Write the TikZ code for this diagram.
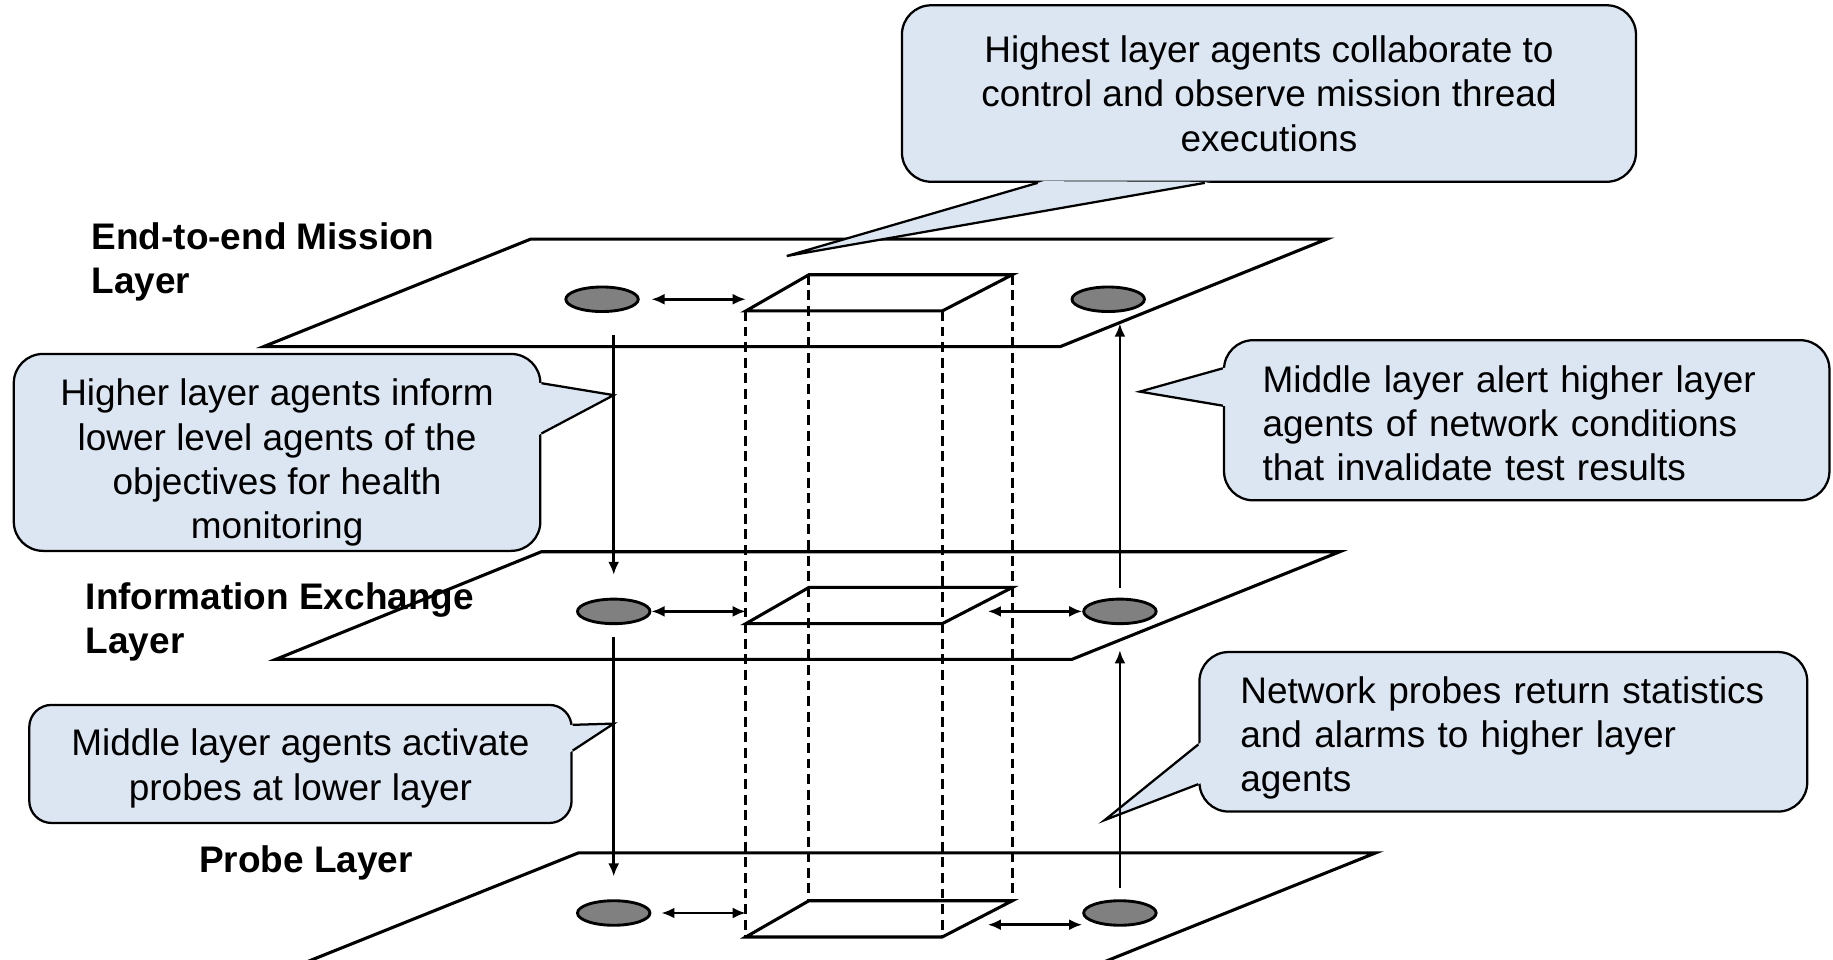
\documentclass[tikz,border=0pt]{standalone}
\usepackage{fontspec}
\setmainfont{Liberation Sans}
\usetikzlibrary{arrows.meta,calc,shapes.geometric}

\definecolor{bubblefill}{RGB}{220,230,242}
\definecolor{agentfill}{RGB}{128,128,128}

\tikzset{
  plane/.style={line width=1.5pt},
  agent/.style={ellipse, draw, line width=1.4pt, fill=agentfill, minimum width=1.24cm, minimum height=0.42cm, inner sep=0pt},
  flow/.style={line width=1.35pt},
  shaft/.style={line width=1.45pt, dash pattern=on 4.8pt off 2.8pt},
  bubble/.style={draw, line width=1.1pt, fill=bubblefill, rounded corners=0.5cm, inner sep=0pt, font=\fontsize{18}{21.6}\selectfont},
  layertitle/.style={anchor=west, align=left, inner sep=0pt, font=\fontsize{18}{21.6}\selectfont\bfseries},
}

% tail of a callout: base, base, tip
\newcommand{\tail}[3]{%
  \fill[bubblefill] ($(#1)!-3pt!(#3)$) -- (#3) -- ($(#2)!-3pt!(#3)$) -- cycle;
  \draw[line width=1.1pt] (#1) -- (#3) -- (#2);
}
% pushes a callout text down a little
\newcommand{\topstrut}[1]{\rule{0pt}{#1}}

\begin{document}
\begin{tikzpicture}[x=0.02cm, y=-0.02cm, >={Latex[length=6.4pt,width=5.4pt]}]
    \path[use as bounding box, clip] (0,0) rectangle (1568,821);

    % the three layers
    \draw[plane] (454,204.5) -- (1135,204.5) -- (907,296.5) -- (225.5,296.5) -- cycle;
    \draw[plane] (463,472) -- (1146,472) -- (917,564) -- (236,564) -- cycle;
    \draw[plane] (495,729.5) -- (1177,729.5) -- (944,823) -- (262,823) -- cycle;

    % the shaft through the layers
    \foreach \lvl/\dy in {t/0, m/267.5, b/535.5} {
        \coordinate (\lvl fl) at (638,266+\dy);
        \coordinate (\lvl fr) at (806,266+\dy);
        \coordinate (\lvl br) at (866,235+\dy);
        \coordinate (\lvl bl) at (692,235+\dy);
        \draw[plane] (\lvl fl) -- (\lvl fr) -- (\lvl br) -- (\lvl bl) -- cycle;
    }
    \draw[shaft] (tfl) -- (bfl);
    \draw[shaft] (tbl) -- (bbl);
    \draw[shaft] (tfr) -- (bfr);
    \draw[shaft] (tbr) -- (bbr);

    % callouts
    \node[bubble, minimum width=12.56cm, minimum height=3.02cm, align=center] (c1) at (1085.5,80) {Highest layer agents collaborate to\\control and observe mission thread\\executions};
    \node[bubble, minimum width=9.01cm, minimum height=3.37cm, align=center] (c2) at (237,387) {\topstrut{23pt}Higher layer agents inform\\lower level agents of the\\objectives for health\\monitoring};
    \node[bubble, text width=9.04cm, inner xsep=0.66cm, minimum height=2.74cm, align=left] (c3) at (1306,359.5) {\topstrut{16pt}Middle layer alert higher layer\\agents of network conditions\\that invalidate test results};
    \node[bubble, rounded corners=0.38cm, minimum width=9.28cm, minimum height=2.02cm, align=center] (c4) at (257,653.5) {\topstrut{17.5pt}Middle layer agents activate\\probes at lower layer};
    \node[bubble, text width=9cm, inner xsep=0.7cm, minimum height=2.73cm, align=left] (c5) at (1286,626) {\topstrut{19pt}Network probes return statistics\\and alarms to higher layer\\agents};

    \coordinate (c1a) at ($(c1.south west)+(117,0)$);
    \coordinate (c1b) at ($(c1.south west)+(260,0)$);
    \coordinate (c1tip) at (673,219);
    \tail{c1a}{c1b}{c1tip}
    \coordinate (c2a) at ($(c2.north east)+(0,26)$);
    \coordinate (c2b) at ($(c2.north east)+(0,69)$);
    \coordinate (c2tip) at (525,338);
    \tail{c2a}{c2b}{c2tip}
    \coordinate (c3a) at ($(c3.north west)+(0,25)$);
    \coordinate (c3b) at ($(c3.north west)+(0,57)$);
    \coordinate (c3tip) at (975,335);
    \tail{c3a}{c3b}{c3tip}
    \coordinate (c4a) at ($(c4.north east)+(0,18)$);
    \coordinate (c4b) at ($(c4.north east)+(0,40)$);
    \coordinate (c4tip) at (525,619);
    \tail{c4a}{c4b}{c4tip}
    \coordinate (c5a) at ($(c5.north west)+(0,80)$);
    \coordinate (c5b) at ($(c5.north west)+(0,114)$);
    \coordinate (c5tip) at (945,701.5);
    \tail{c5a}{c5b}{c5tip}

    % agents
    \node[agent] (topL) at (515,256) {};
    \node[agent] (topR) at (948,256) {};
    \node[agent] (midL) at (525,523) {};
    \node[agent] (midR) at (958,523) {};
    \node[agent] (botL) at (525,781) {};
    \node[agent] (botR) at (958,781) {};

    % links to the shaft
    \coordinate (mlink) at (845,523);
    \coordinate (blink) at (845,791);
    \draw[flow, <->, shorten <=0.2cm] (topL.east) -- (topL.east -| tfl);
    \draw[flow, <->] (midL.east) -- (midL.east -| mfl);
    \draw[flow, <->] (mlink) -- (midR.west);
    \draw[flow, <->, shorten <=0.17cm] (botL.east) -- (botL.east -| bfl);
    \draw[flow, <->] (blink) -- (blink -| botR.west);

    % up and down between layers
    \draw[flow, ->, shorten <=0.38cm, shorten >=0.39cm] (topL.south -| midL.north) -- (midL.north);
    \draw[flow, ->, shorten <=0.21cm, shorten >=0.39cm] (midL.south) -- (botL.north);
    \draw[flow, ->, shorten <=0.17cm, shorten >=0.18cm] (midR.north) -- (midR.north |- topR.south);
    \draw[flow, ->, shorten <=0.19cm, shorten >=0.43cm] (botR.north) -- (midR.south);

    % layer names
    \node[layertitle] (lyrTop) at (78,224) {End-to-end Mission\\Layer};
    \node[layertitle] (lyrMid) at (73,532) {Information Exchange\\Layer};
    \node[layertitle] (lyrBot) at (170,738) {Probe Layer};
\end{tikzpicture}
\end{document}
